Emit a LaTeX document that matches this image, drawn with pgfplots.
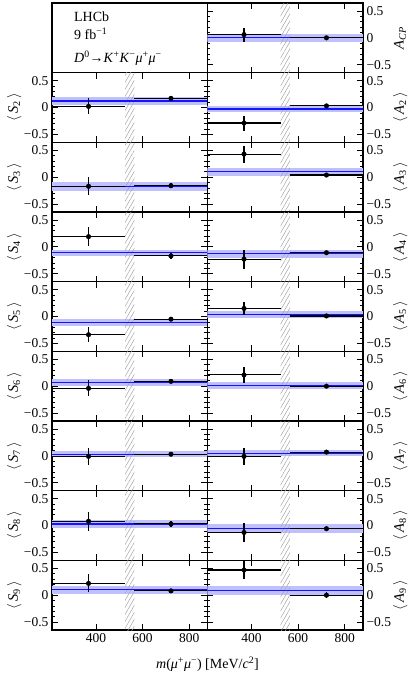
\documentclass[border=0pt]{standalone}
\usepackage{fontspec}
\setmainfont{Liberation Serif}
\usepackage{pgfplots}
\pgfplotsset{compat=1.18}
\usepgfplotslibrary{groupplots}
\usetikzlibrary{patterns.meta}
\definecolor{bandc}{RGB}{192,192,255}
\definecolor{hatchc}{RGB}{165,165,165}
\definecolor{linec}{RGB}{20,20,255}

% #1 average, #2 band low, #3 band high, #4 y low bin, #5 err, #6 y high bin, #7 err
\newcommand{\panel}[7]{%
  \addplot[fill=bandc, draw=none] coordinates {(212,#2) (878,#2) (878,#3) (212,#3)} -- cycle;
  \addplot[pattern={Lines[angle=60,distance=3.5pt,line width=0.5pt]}, pattern color=hatchc, draw=none]
     coordinates {(525,-0.65) (565,-0.65) (565,0.65) (525,0.65)} -- cycle;
  \addplot[linec, line width=1.3pt] coordinates {(212,#1) (878,#1)};
  \addplot[black, only marks, mark=*, mark size=2.3pt,
     error bars/.cd, x dir=both, x explicit, y dir=both, y explicit,
     error bar style={line width=1.1pt, black}, error mark=none]
     coordinates {(368.5,#4) +- (156.5,#5) (721.5,#6) +- (156.5,#7)};
}
\newcommand{\br}[2]{$\Big\langle$\,\textit{#1}\textsubscript{#2}\,$\Big\rangle$}

\pgfplotsset{
  leftcol/.style={yticklabel pos=left,
    ylabel style={at={(axis description cs:-0.245,0.5)}, anchor=center}},
  rightcol/.style={yticklabel pos=right,
    ylabel style={at={(axis description cs:1.238,0.5)}, anchor=center}},
}

\begin{document}
\begin{tikzpicture}
\begin{groupplot}[
  group style={group name=G, group size=2 by 9, horizontal sep=0pt, vertical sep=0pt,
     xticklabels at=edge bottom},
  scale only axis, width=155.5pt, height=69.67pt,
  xmin=212, xmax=878, ymin=-0.65, ymax=0.65,
  xtick={400,600,800}, xticklabels={400,600,800},
  ytick={-0.5,0,0.5}, yticklabels={−0.5,0,0.5},
  minor y tick num=4,
  tick align=inside,
  major tick length=6pt, minor tick length=3pt,
  every tick/.style={black, line width=0.7pt},
  axis line style={line width=1.1pt},
  tick label style={font=\fontsize{13.5}{15}\selectfont},
  label style={font=\fontsize{14.5}{16}\selectfont},
]
% row 1
\nextgroupplot[xtick=\empty, ytick=\empty, minor y tick num=0]
\node[anchor=west, font=\fontsize{14}{16}\selectfont] at (rel axis cs:0.12,0.81) {LHCb};
\node[anchor=west, font=\fontsize{14}{16}\selectfont] at (rel axis cs:0.12,0.56) {9 fb\textsuperscript{−1}};
\node[anchor=west, font=\fontsize{14}{16}\selectfont] at (rel axis cs:0.12,0.21) {\textit{D}\textsuperscript{0}→\textit{K}\textsuperscript{+}\textit{K}\textsuperscript{−}\textit{μ}\textsuperscript{+}\textit{μ}\textsuperscript{−}};
\nextgroupplot[rightcol, ylabel={\textit{A}\textsubscript{\textit{CP}}}]
\panel{0.0}{-0.07}{0.07}{0.06}{0.13}{0.0}{0.03}
% row 2
\nextgroupplot[leftcol, ylabel={\br{S}{2}}]
\panel{0.12}{0.05}{0.19}{0.02}{0.15}{0.17}{0.05}
\nextgroupplot[rightcol, ylabel={\br{A}{2}}]
\panel{-0.03}{-0.08}{0.02}{-0.29}{0.14}{0.03}{0.04}
% row 3
\nextgroupplot[leftcol, ylabel={\br{S}{3}}]
\panel{-0.17}{-0.25}{-0.09}{-0.17}{0.17}{-0.16}{0.05}
\nextgroupplot[rightcol, ylabel={\br{A}{3}}]
\panel{0.10}{0.02}{0.18}{0.43}{0.16}{0.04}{0.04}
% row 4
\nextgroupplot[leftcol, ylabel={\br{S}{4}}]
\panel{-0.11}{-0.17}{-0.05}{0.19}{0.18}{-0.17}{0.05}
\nextgroupplot[rightcol, ylabel={\br{A}{4}}]
\panel{-0.13}{-0.20}{-0.06}{-0.23}{0.18}{-0.11}{0.04}
% row 5
\nextgroupplot[leftcol, ylabel={\br{S}{5}}]
\panel{-0.11}{-0.18}{-0.04}{-0.34}{0.14}{-0.05}{0.04}
\nextgroupplot[rightcol, ylabel={\br{A}{5}}]
\panel{0.04}{-0.03}{0.11}{0.15}{0.13}{0.01}{0.04}
% row 6
\nextgroupplot[leftcol, ylabel={\br{S}{6}}]
\panel{0.065}{-0.005}{0.135}{-0.04}{0.15}{0.09}{0.04}
\nextgroupplot[rightcol, ylabel={\br{A}{6}}]
\panel{0.01}{-0.05}{0.07}{0.21}{0.15}{0.0}{0.04}
% row 7
\nextgroupplot[leftcol, ylabel={\br{S}{7}}]
\panel{0.03}{-0.03}{0.09}{-0.01}{0.16}{0.03}{0.04}
\nextgroupplot[rightcol, ylabel={\br{A}{7}}]
\panel{0.05}{-0.01}{0.11}{-0.01}{0.16}{0.07}{0.04}
% row 8
\nextgroupplot[leftcol, ylabel={\br{S}{8}}]
\panel{0.03}{-0.05}{0.11}{0.08}{0.18}{0.03}{0.05}
\nextgroupplot[rightcol, ylabel={\br{A}{8}}]
\panel{-0.06}{-0.14}{0.02}{-0.13}{0.17}{-0.06}{0.04}
% row 9
\nextgroupplot[leftcol, ylabel={\br{S}{9}}]
\panel{0.10}{0.03}{0.17}{0.22}{0.17}{0.08}{0.04}
\nextgroupplot[rightcol, ylabel={\br{A}{9}}]
\panel{0.09}{0.01}{0.17}{0.47}{0.16}{0.0}{0.05}
\end{groupplot}
\node[font=\fontsize{14}{16}\selectfont] at ([yshift=-34pt]G c1r9.south east) {\textit{m}(\textit{μ}\textsuperscript{+}\textit{μ}\textsuperscript{−}) [MeV/\textit{c}\textsuperscript{2}]};
\pgfresetboundingbox
\path ([xshift=-52pt,yshift=3pt]G c1r1.north west) rectangle ([xshift=52pt,yshift=-47pt]G c2r9.south east);
\end{tikzpicture}
\end{document}
